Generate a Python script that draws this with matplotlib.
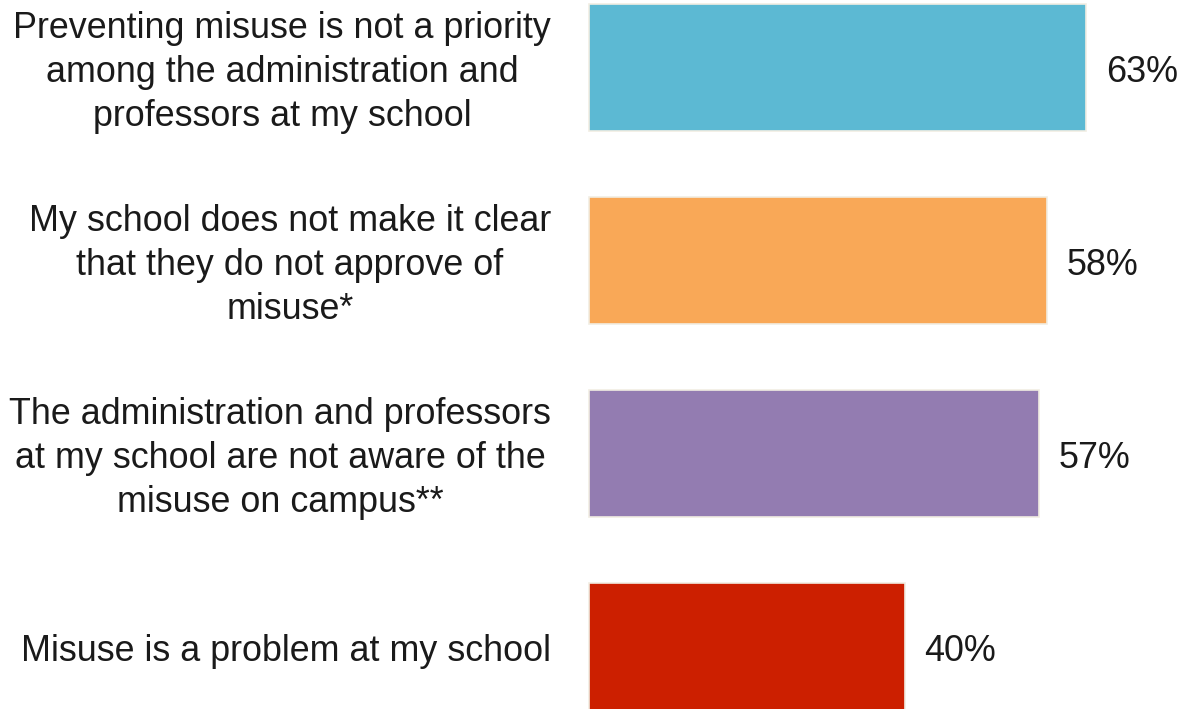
import matplotlib
matplotlib.use("Agg")
import matplotlib.pyplot as plt

categories = [
    "Preventing misuse is not a priority\namong the administration and\nprofessors at my school",
    "My school does not make it clear\nthat they do not approve of\nmisuse*",
    "The administration and professors\nat my school are not aware of the\nmisuse on campus**",
    "Misuse is a problem at my school",
]
values = [63, 58, 57, 40]
colors = ["#5CB9D3", "#F9A857", "#937CB1", "#CC1F00"]

plt.rcParams["font.family"] = ["Liberation Sans", "DejaVu Sans"]

W, H, DPI = 1185, 709, 100
fig = plt.figure(figsize=(W / DPI, H / DPI), dpi=DPI)
ax = fig.add_axes([0, 0, 1, 1])

px_per_unit = 7.89
x0 = 589
step = 193.0
first_center = 67.5
ax.set_xlim(-x0 / px_per_unit, (W - x0) / px_per_unit)
ax.set_ylim((H - first_center) / step, -first_center / step)

pos = list(range(len(values)))
ax.barh(pos, values, height=0.66, color=colors, edgecolor="#F1EDE3", linewidth=1.2)

dy = 5 / step
for i, (cat, v) in enumerate(zip(categories, values)):
    ax.text(-38 / px_per_unit, i + dy, cat, ha="right", va="center",
            multialignment="center", fontsize=25.8, color="#1a1a1a",
            linespacing=1.33)
    ax.text(v + 20 / px_per_unit, i + dy, f"{v}%", ha="left", va="center",
            fontsize=25.8, color="#1a1a1a")

ax.axis("off")
fig.savefig("out.png", dpi=DPI, facecolor="white")
